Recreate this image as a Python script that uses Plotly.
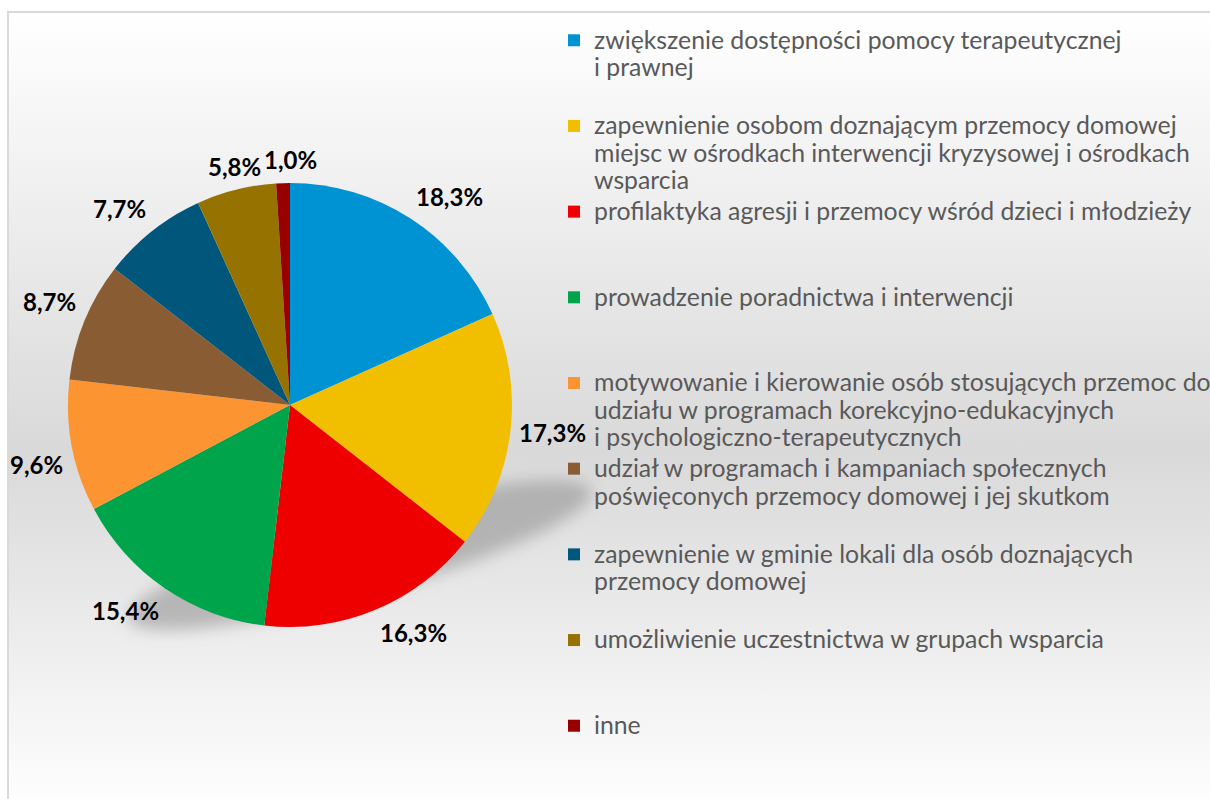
import base64
import math
import plotly.graph_objects as go

# Shares of reported actions (percent), in chart order (clockwise from 12 o'clock)
categories = [
    "zwiększenie dostępności pomocy terapeutycznej<br>i prawnej",
    "zapewnienie osobom doznającym przemocy domowej<br>miejsc w ośrodkach interwencji kryzysowej i ośrodkach<br>wsparcia",
    "profilaktyka agresji i przemocy wśród dzieci i młodzieży",
    "prowadzenie poradnictwa i interwencji",
    "motywowanie i kierowanie osób stosujących przemoc do<br>udziału w programach korekcyjno-edukacyjnych<br>i psychologiczno-terapeutycznych",
    "udział w programach i kampaniach społecznych<br>poświęconych przemocy domowej i jej skutkom",
    "zapewnienie w gminie lokali dla osób doznających<br>przemocy domowej",
    "umożliwienie uczestnictwa w grupach wsparcia",
    "inne",
]
values = [18.3, 17.3, 16.3, 15.4, 9.6, 8.7, 7.7, 5.8, 1.0]
colors = ["#0093d3", "#f2bf00", "#ee0000", "#00a44b", "#fd9432",
          "#8a5c33", "#00577b", "#967300", "#980000"]

LEGEND_GLYPH_PX = 24.8


# every legend entry occupies three text lines so the entries are evenly spaced
def legend_entry(label, n=3):
    count = label.count("<br>") + 1
    lines = label.split("<br>") + ["\u00a0"] * (n - count)
    return "<br>".join(f"<span style='font-size:{LEGEND_GLYPH_PX}px'>{ln}</span>" for ln in lines)


legend_labels = [legend_entry(c) for c in categories]

W, H = 1210, 799

# background: vertical grey gradient, thin frame and a soft shadow under the pie
svg = f"""<svg xmlns='http://www.w3.org/2000/svg' width='{W}' height='{H}' viewBox='0 0 {W} {H}'>
<defs>
<linearGradient id='g' x1='0' y1='0' x2='0' y2='1'>
<stop offset='0' stop-color='#ffffff'/>
<stop offset='0.55' stop-color='#d9d9d9'/>
<stop offset='1' stop-color='#ffffff'/>
</linearGradient>
<filter id='b' x='-50%' y='-50%' width='200%' height='200%'><feGaussianBlur stdDeviation='8'/></filter>
</defs>
<rect width='{W}' height='{H}' fill='#ffffff'/>
<rect x='8' y='12' width='1230' height='800' fill='url(#g)' stroke='#d9d9d9' stroke-width='2'/>
<ellipse cx='360' cy='555' rx='240' ry='40' transform='rotate(-15.5 360 555)' fill='#8c8c8c' fill-opacity='0.55' filter='url(#b)'/>
</svg>"""
bg_src = "data:image/svg+xml;base64," + base64.b64encode(svg.encode("utf-8")).decode("ascii")

cx, cy, r = 290, 405, 222

fig = go.Figure(
    go.Pie(
        labels=legend_labels,
        values=values,
        sort=False,
        direction="clockwise",
        rotation=0,
        marker=dict(colors=colors, line=dict(width=0)),
        textinfo="none",
        hoverinfo="value",
        domain=dict(x=[(cx - r) / W, (cx + r) / W],
                    y=[(H - cy - r) / H, (H - cy + r) / H]),
        showlegend=True,
    )
)

# data labels just outside each slice: the label box touches its slice's mid-angle ray
total = sum(values)
gap = 7
min_spacing = 56
annotations = []
placed = []
cum = 0.0
for v in values:
    mid = 2 * math.pi * (cum + v / 2) / total
    cum += v
    s, c = math.sin(mid), math.cos(mid)
    px = cx + (r + gap) * s
    py = cy - (r + gap) * c
    xa = "center" if abs(s) < 0.3 else ("left" if s > 0 else "right")
    ya = "middle" if abs(c) < 0.15 else ("bottom" if c > 0 else "top")
    if xa == "center" and placed and placed[-1][1] == "center":
        px = max(px, placed[-1][0] + min_spacing)
    placed.append((px, xa))
    annotations.append(dict(
        x=px / W, y=1 - py / H, xref="paper", yref="paper",
        text=f"{v:.1f}%".replace(".", ","),
        showarrow=False, xanchor=xa, yanchor=ya,
        font=dict(family="Lato", size=24, color="#000000", weight="bold"),
    ))

fig.update_layout(
    width=W,
    height=H,
    margin=dict(l=0, r=0, t=0, b=0, autoexpand=False),
    paper_bgcolor="rgba(0,0,0,0)",
    plot_bgcolor="rgba(0,0,0,0)",
    images=[dict(source=bg_src, xref="paper", yref="paper", x=0, y=1,
                 sizex=1, sizey=1, xanchor="left", yanchor="top",
                 sizing="stretch", layer="below")],
    annotations=annotations,
    legend=dict(
        x=(574 - 20) / W, xanchor="left",
        y=1 - 20 / H, yanchor="top",
        valign="top",
        font=dict(family="Lato", size=21.2, color="#595959"),
        bgcolor="rgba(0,0,0,0)",
        traceorder="normal",
    ),
)

fig.write_html("out.html")
